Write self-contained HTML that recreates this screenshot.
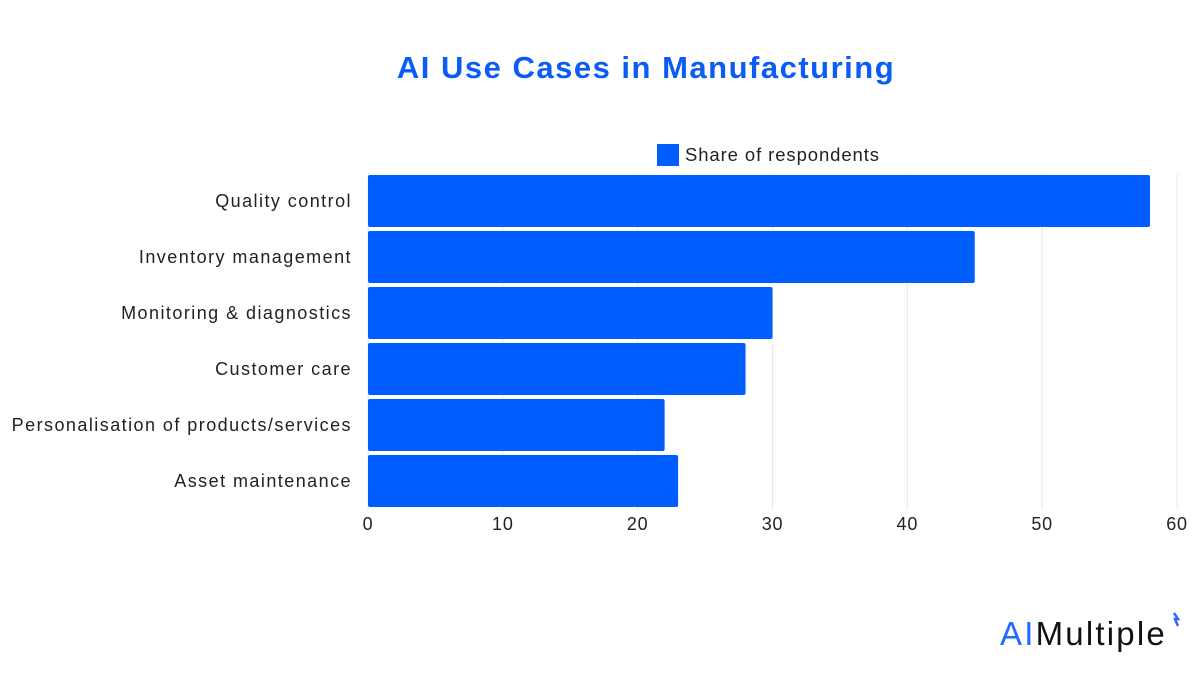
<!DOCTYPE html>
<html><head><meta charset="utf-8"><style>
body{margin:0;background:#fff;font-family:"Liberation Sans",sans-serif}
svg text{font-family:"Liberation Sans",sans-serif}
</style></head><body>
<svg width="1200" height="675" id="c">
<text x="646" y="78" text-anchor="middle" font-size="31" font-weight="bold" fill="#0a5cf5" letter-spacing="1.5">AI Use Cases in Manufacturing</text>
<rect x="657" y="144" width="22" height="22" fill="#005eff"/>
<text x="685" y="161" font-size="18.5" fill="#222" letter-spacing="0.9">Share of respondents</text>
<g id="grid"></g><g id="bars"></g><g id="labels"></g><g id="ticks"></g>
<text x="1000" y="645" font-size="33" fill="#111" letter-spacing="2.2"><tspan fill="#1f6bff">AI</tspan>Multiple</text>
<path d="M1174 613 l4 6 l-3 0 l3 7" stroke="#3366ff" stroke-width="2.5" fill="none"/>
</svg>
<script>
const categories=["Quality control","Inventory management","Monitoring & diagnostics","Customer care","Personalisation of products/services","Asset maintenance"];
const values=[58,45,30,28,22,23];
const tickValues=[0,10,20,30,40,50,60];
const NS="http://www.w3.org/2000/svg";
const x0=368,x1=1177,max=60,top0=174,band=56,barH=52;
const xs=v=>x0+(x1-x0)*v/max;
function mk(t,a,p){const e=document.createElementNS(NS,t);for(const k in a)e.setAttribute(k,a[k]);document.getElementById(p).appendChild(e);return e;}
tickValues.forEach(t=>{
  const g=mk("line",{x1:xs(t),x2:xs(t),y1:top0,y2:top0+band*categories.length,stroke:"#e8e8e8","stroke-width":1},"grid");
  
  
  const l=mk("text",{x:xs(t),y:530,"text-anchor":"middle","font-size":18,fill:"#222","letter-spacing":0.8},"ticks");
  l.textContent=t;
  
  
});
categories.forEach((c,i)=>{
  const y=top0+band*i+1;
  const r=mk("rect",{x:x0,y:y,width:xs(values[i])-x0,height:barH,fill:"#005eff",rx:2},"bars");
  
  
  const t=mk("text",{x:352,y:y+barH/2+6,"text-anchor":"end","font-size":18,fill:"#222","letter-spacing":1.45},"labels");
  t.textContent=c;
  
  
});
</script>
</body></html>
